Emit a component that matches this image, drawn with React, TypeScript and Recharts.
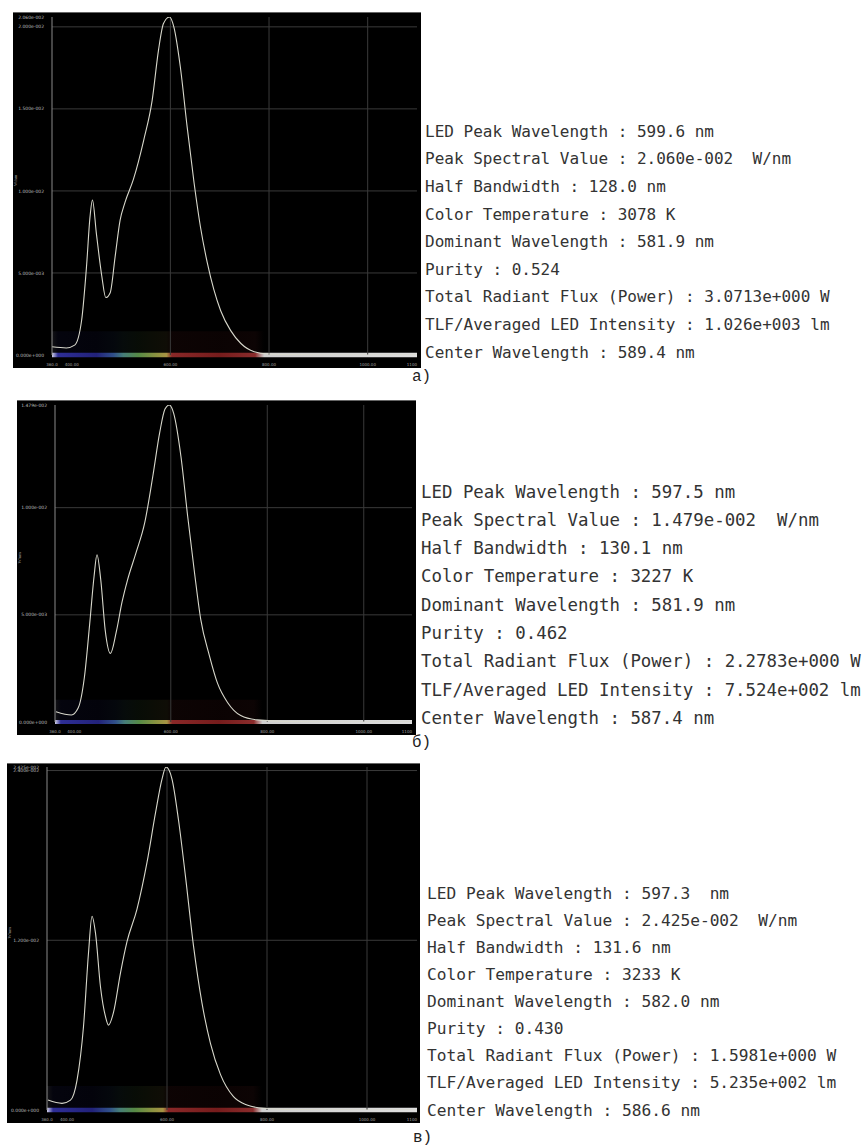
import React from 'react';
import { LineChart, Line, XAxis, YAxis, ReferenceLine, ReferenceArea } from 'recharts';

// spectra, values in 1e-2 W/nm
const wavelengthsA = [360, 389, 406, 420, 430, 437, 442, 450, 461, 469, 478, 488, 498, 508, 525, 546, 563, 576, 586, 598, 607, 620, 634, 648, 661, 675, 688, 702, 722, 743, 770, 798, 850, 950, 1100];
const valuesA = [0.05, 0.043, 0.06, 0.21, 0.54, 0.84, 0.945, 0.74, 0.48, 0.35, 0.38, 0.6, 0.82, 0.93, 1.07, 1.31, 1.55, 1.86, 2.02, 2.06, 2.0, 1.76, 1.39, 1.05, 0.78, 0.56, 0.4, 0.27, 0.15, 0.07, 0.02, 0.006, 0.002, 0, 0];

const wavelengthsB = [362, 394, 408, 421, 432, 441, 447, 455, 464, 475, 487, 499, 510, 528, 546, 563, 577, 588, 597, 606, 621, 635, 649, 662, 680, 697, 718, 745, 779, 850, 950, 1100];
const valuesB = [0.048, 0.033, 0.065, 0.21, 0.46, 0.68, 0.78, 0.66, 0.43, 0.32, 0.42, 0.56, 0.66, 0.79, 0.93, 1.15, 1.35, 1.46, 1.479, 1.44, 1.24, 0.96, 0.7, 0.48, 0.31, 0.18, 0.09, 0.03, 0.01, 0.002, 0, 0];

const wavelengthsC = [362, 390, 407, 420, 433, 443, 450, 457, 467, 477, 483, 493, 507, 520, 540, 560, 577, 590, 598, 610, 623, 637, 653, 670, 687, 707, 733, 760, 793, 850, 950, 1100];
const valuesC = [0.07, 0.047, 0.07, 0.21, 0.59, 1.11, 1.37, 1.25, 0.87, 0.66, 0.6, 0.69, 0.97, 1.19, 1.42, 1.75, 2.1, 2.34, 2.425, 2.34, 2.05, 1.65, 1.16, 0.755, 0.47, 0.25, 0.094, 0.035, 0.012, 0.003, 0, 0];

const yTicksA = [0, 0.5, 1.0, 1.5, 2.0, 2.06];
const yTicksB = [0, 0.5, 1.0, 1.479];
const yTicksC = [0, 1.2, 2.4, 2.425];
const xTicks = [360, 400, 600, 800, 1000, 1100];
const xGrid = [600, 800, 1000];

const statsA = [
  'LED Peak Wavelength : 599.6 nm',
  'Peak Spectral Value : 2.060e-002  W/nm',
  'Half Bandwidth : 128.0 nm',
  'Color Temperature : 3078 K',
  'Dominant Wavelength : 581.9 nm',
  'Purity : 0.524',
  'Total Radiant Flux (Power) : 3.0713e+000 W',
  'TLF/Averaged LED Intensity : 1.026e+003 lm',
  'Center Wavelength : 589.4 nm',
];
const statsB = [
  'LED Peak Wavelength : 597.5 nm',
  'Peak Spectral Value : 1.479e-002  W/nm',
  'Half Bandwidth : 130.1 nm',
  'Color Temperature : 3227 K',
  'Dominant Wavelength : 581.9 nm',
  'Purity : 0.462',
  'Total Radiant Flux (Power) : 2.2783e+000 W',
  'TLF/Averaged LED Intensity : 7.524e+002 lm',
  'Center Wavelength : 587.4 nm',
];
const statsC = [
  'LED Peak Wavelength : 597.3  nm',
  'Peak Spectral Value : 2.425e-002  W/nm',
  'Half Bandwidth : 131.6 nm',
  'Color Temperature : 3233 K',
  'Dominant Wavelength : 582.0 nm',
  'Purity : 0.430',
  'Total Radiant Flux (Power) : 1.5981e+000 W',
  'TLF/Averaged LED Intensity : 5.235e+002 lm',
  'Center Wavelength : 586.6 nm',
];

const fmtY = (v: number) =>
  (v / 100).toExponential(3).replace(/e([+-])(\d+)$/, (_m, s, d) => 'e' + s + d.padStart(3, '0'));

const XTick = (props: any) => {
  const { x, y, payload } = props;
  const v = payload.value;
  const first = v === xTicks[0];
  const last = v === xTicks[xTicks.length - 1];
  return (
    <text x={x} y={y + 3} textAnchor={last ? 'end' : 'middle'} fontSize={4} fill="#a0a0a0" fontFamily="DejaVu Sans">
      {first ? v.toFixed(1) : last ? String(v) : v.toFixed(2)}
    </text>
  );
};

const specStops: [number, string][] = [
  [360, '#d0d0e8'],
  [372, '#2e2e96'],
  [450, '#22227a'],
  [485, '#30508a'],
  [505, '#467e78'],
  [535, '#568a46'],
  [570, '#8a9240'],
  [592, '#a89444'],
  [603, '#8a2828'],
  [700, '#761c1c'],
  [772, '#8a2c2c'],
  [790, '#cfcfcf'],
  [1100, '#dedede'],
];

interface PanelProps {
  id: string;
  wl: number[];
  vals: number[];
  yTicks: number[];
  left: number;
  top: number;
  width: number;
  height: number;
  yAxisWidth: number;
  mTop: number;
  mRight: number;
}

const SpectrumPanel: React.FC<PanelProps> = ({ id, wl, vals, yTicks, left, top, width, height, yAxisWidth, mTop, mRight }) => {
  const data = wl.map((w, i) => ({ w, v: vals[i] }));
  const yMax = yTicks[yTicks.length - 1];
  const bh = yMax * 0.0065;
  return (
    <div style={{ position: 'absolute', left, top, width, height, background: '#000', borderTop: '1px solid #666', boxSizing: 'border-box' }}>
      <LineChart width={width} height={height - 1} data={data} margin={{ top: mTop - 1, right: mRight, left: 0, bottom: 0 }}>
        <defs>
          <linearGradient id={`spec${id}`} x1="0" y1="0" x2="1" y2="0">
            {specStops.map(([w, c]) => (
              <stop key={w} offset={(w - 360) / 740} stopColor={c} />
            ))}
          </linearGradient>
          <linearGradient id={`glow${id}`} x1="0" y1="0" x2="1" y2="0">
            {specStops.map(([w, c]) => (
              <stop key={w} offset={(w - 360) / 740} stopColor={w >= 790 ? '#000' : c} />
            ))}
          </linearGradient>
        </defs>
        <XAxis
          type="number"
          dataKey="w"
          domain={[360, 1100]}
          ticks={xTicks}
          interval={0}
          tick={<XTick />}
          axisLine={false}
          tickLine={false}
          height={13}
          allowDataOverflow
        />
        <YAxis
          type="number"
          domain={[0, yMax]}
          ticks={yTicks}
          interval={0}
          width={yAxisWidth}
          tickFormatter={fmtY}
          tick={{ fontSize: 4.5, fill: '#bdbdbd', fontFamily: 'DejaVu Sans' }}
          tickLine={false}
          tickMargin={2}
          axisLine={{ stroke: '#8a8a8a', strokeWidth: 1 }}
          allowDataOverflow
          label={{ value: 'W/nm', angle: -90, position: 'insideLeft', offset: 2, fontSize: 4.5, fill: '#999' }}
        />
        {yTicks.slice(1, -1).map((t) => (
          <ReferenceLine key={`y${t}`} y={t} stroke="#3a3a3a" strokeWidth={1} />
        ))}
        {xGrid.map((t) => (
          <ReferenceLine key={`x${t}`} x={t} stroke="#3a3a3a" strokeWidth={1} />
        ))}
        <ReferenceArea x1={360} x2={1100} y1={0} y2={yMax * 0.07} fill={`url(#glow${id})`} fillOpacity={0.09} stroke="none" ifOverflow="visible" />
        <ReferenceArea x1={360} x2={1100} y1={-bh} y2={bh} fill={`url(#spec${id})`} fillOpacity={1} stroke="none" ifOverflow="visible" />
        <Line type="monotone" dataKey="v" stroke="#d8d8cc" strokeWidth={1.1} dot={false} isAnimationActive={false} />
      </LineChart>
    </div>
  );
};

interface StatsProps {
  lines: string[];
  left: number;
  firstCenter: number;
  lineHeight: number;
  fontSize: number;
  label: string;
  labelLeft: number;
  labelCenter: number;
}

const Stats: React.FC<StatsProps> = ({ lines, left, firstCenter, lineHeight, fontSize, label, labelLeft, labelCenter }) => (
  <>
    {lines.map((t, i) => (
      <div
        key={i}
        style={{
          position: 'absolute',
          left,
          top: firstCenter + i * lineHeight - lineHeight / 2,
          height: lineHeight,
          lineHeight: `${lineHeight}px`,
          fontFamily: '"DejaVu Sans Mono", monospace',
          fontSize,
          color: '#333',
          whiteSpace: 'pre',
        }}
      >
        {t}
      </div>
    ))}
    <div
      style={{
        position: 'absolute',
        left: labelLeft,
        top: labelCenter - 10,
        lineHeight: '20px',
        fontFamily: '"Liberation Mono", monospace',
        fontSize: 16,
        color: '#222',
      }}
    >
      {label}
    </div>
  </>
);

export default function App() {
  return (
    <div style={{ position: 'absolute', left: 0, top: 0, width: 862, height: 1148, background: '#fff', overflow: 'hidden' }}>
      <SpectrumPanel id="a" wl={wavelengthsA} vals={valuesA} yTicks={yTicksA} left={13} top={12} width={408} height={356} yAxisWidth={39} mTop={5} mRight={4} />
      <Stats lines={statsA} left={425} firstCenter={131.5} lineHeight={27.6} fontSize={16} label="а)" labelLeft={412} labelCenter={377} />

      <SpectrumPanel id="b" wl={wavelengthsB} vals={valuesB} yTicks={yTicksB} left={17} top={400} width={399} height={335} yAxisWidth={38} mTop={5} mRight={4} />
      <Stats lines={statsB} left={421} firstCenter={491.7} lineHeight={28.3} fontSize={17.4} label="б)" labelLeft={412} labelCenter={743} />

      <SpectrumPanel id="c" wl={wavelengthsC} vals={valuesC} yTicks={yTicksC} left={7} top={763} width={413} height={360} yAxisWidth={40} mTop={4} mRight={3} />
      <Stats lines={statsC} left={427} firstCenter={893.3} lineHeight={27.1} fontSize={16.2} label="в)" labelLeft={413} labelCenter={1138} />
    </div>
  );
}
